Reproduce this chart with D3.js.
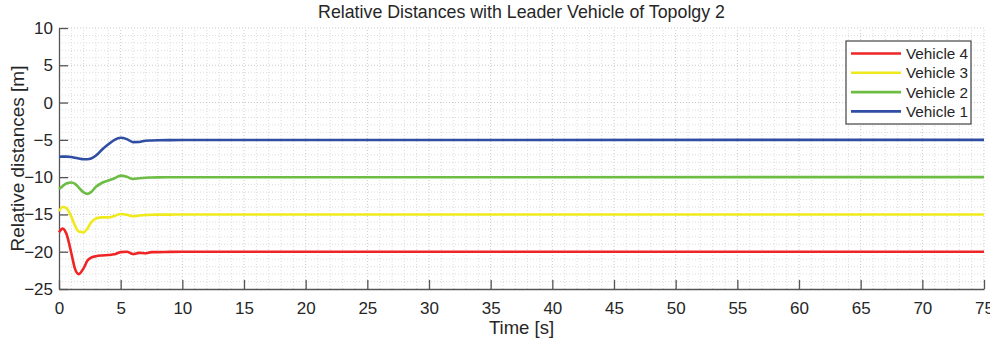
<!DOCTYPE html>
<html>
<head>
<meta charset="utf-8">
<script src="https://cdn.jsdelivr.net/npm/d3@7"></script>
<style>
  body { margin: 0; background: #fff; }
  svg text { font-family: "Liberation Sans", Arial, sans-serif; fill: #262626; }
</style>
</head>
<body>
<div id="chart"></div>
<script>
// time samples [s] (dense in the transient, then straight to the end)
const time = [0, 0.3, 0.6, 1, 1.3, 1.6, 2, 2.3, 2.6, 3, 3.5, 4, 4.5, 5, 5.5, 6, 6.5, 7, 7.5, 8, 9, 10, 75];

// relative distances
const vehicle1 = [-7.26, -7.25, -7.25, -7.3, -7.4, -7.5, -7.6, -7.6, -7.5, -7.1, -6.3, -5.6, -5.0, -4.72, -4.9, -5.3, -5.28, -5.12, -5.08, -5.05, -5.03, -5.02, -5];
const vehicle2 = [-11.6, -11.2, -10.85, -10.72, -10.9, -11.4, -12.05, -12.25, -12.0, -11.3, -10.75, -10.45, -10.15, -9.8, -9.95, -10.25, -10.15, -10.08, -10.05, -10.03, -10.02, -10.01, -10];
const vehicle3 = [-14.55, -14.0, -14.15, -15.3, -16.5, -17.3, -17.4, -16.9, -16.1, -15.55, -15.4, -15.4, -15.2, -14.95, -15.05, -15.25, -15.15, -15.08, -15.05, -15.03, -15.02, -15.01, -15];
const vehicle4 = [-17.4, -16.9, -17.6, -20.2, -22.3, -23.0, -22.2, -21.2, -20.8, -20.6, -20.5, -20.45, -20.35, -20.05, -20.0, -20.3, -20.15, -20.2, -20.05, -20.05, -20.02, -20.01, -20];

const seriesNames = ['Vehicle 4', 'Vehicle 3', 'Vehicle 2', 'Vehicle 1'];
const seriesColors = ['#ee2524', '#f0ea1c', '#6dbd45', '#2f4ea3'];
const seriesValues = [vehicle4, vehicle3, vehicle2, vehicle1];

const xTicks = d3.range(0, 76, 5);
const yTicks = d3.range(-25, 11, 5);

const width = 990, height = 344;
const margin = { top: 28, right: 6, bottom: 55, left: 59 };

const svg = d3.select('#chart').append('svg')
    .attr('width', width).attr('height', height);

const x = d3.scaleLinear().domain([0, 75]).range([margin.left, width - margin.right]);
const y = d3.scaleLinear().domain([-25, 10]).range([height - margin.bottom, margin.top]);

// grid (dotted, every unit)
const grid = svg.append('g');
grid.selectAll('line.gx').data(d3.range(1, 76, 1)).enter().append('line')
    .attr('x1', d => x(d)).attr('x2', d => x(d))
    .attr('y1', y(-25)).attr('y2', y(10))
    .attr('stroke', d => d % 5 === 0 ? '#c8c8c8' : '#dcdcdc')
    .attr('stroke-width', 1)
    .attr('stroke-dasharray', '1,2');
grid.selectAll('line.gy').data(d3.range(-24, 11, 1)).enter().append('line')
    .attr('y1', d => y(d)).attr('y2', d => y(d))
    .attr('x1', x(0)).attr('x2', x(75))
    .attr('stroke', d => d % 5 === 0 ? '#c8c8c8' : '#dcdcdc')
    .attr('stroke-width', 1)
    .attr('stroke-dasharray', '1,2');

// axes with inward ticks
const xAxis = svg.append('g')
    .attr('transform', `translate(0,${y(-25)})`)
    .call(d3.axisBottom(x).tickValues(xTicks).tickSizeInner(-9).tickSizeOuter(0).tickPadding(13));
const yAxis = svg.append('g')
    .attr('transform', `translate(${x(0)},0)`)
    .call(d3.axisLeft(y).tickValues(yTicks).tickSizeInner(-9).tickSizeOuter(0).tickPadding(6));

[xAxis, yAxis].forEach(a => {
    a.select('.domain').attr('stroke', '#555').attr('stroke-width', 1.3);
    a.selectAll('.tick line').attr('stroke', '#555').attr('stroke-width', 1.3);
    a.selectAll('.tick text').style('font-size', '17px').attr('fill', '#262626');
});

// lines
const line = d3.line().x(d => x(d[0])).y(d => y(d[1])).curve(d3.curveMonotoneX);
seriesValues.forEach((vals, i) => {
    svg.append('path')
        .datum(time.map((t, j) => [t, vals[j]]))
        .attr('fill', 'none')
        .attr('stroke', seriesColors[i])
        .attr('stroke-width', 2.6)
        .attr('d', line);
});

// title and labels
svg.append('text')
    .attr('x', (x(0) + x(75)) / 2).attr('y', 18)
    .attr('text-anchor', 'middle')
    .style('font-size', '17.8px')
    .text('Relative Distances with Leader Vehicle of Topolgy 2');

svg.append('text')
    .attr('x', (x(0) + x(75)) / 2).attr('y', 334)
    .attr('text-anchor', 'middle')
    .style('font-size', '18.5px')
    .text('Time [s]');

svg.append('text')
    .attr('transform', `translate(24,${(y(-25) + y(10)) / 2}) rotate(-90)`)
    .attr('text-anchor', 'middle')
    .style('font-size', '19px')
    .text('Relative distances [m]');

// legend
const legend = svg.append('g').attr('transform', 'translate(846,41)');
legend.append('rect')
    .attr('width', 125).attr('height', 83)
    .attr('fill', '#fff').attr('stroke', '#444').attr('stroke-width', 1.2);
seriesNames.forEach((name, i) => {
    const ry = 12.5 + i * 19.3;
    legend.append('line')
        .attr('x1', 5).attr('x2', 55).attr('y1', ry).attr('y2', ry)
        .attr('stroke', seriesColors[i]).attr('stroke-width', 2.6);
    legend.append('text')
        .attr('x', 60).attr('y', ry + 5.5)
        .style('font-size', '15.3px')
        .text(name);
});
</script>
</body>
</html>
